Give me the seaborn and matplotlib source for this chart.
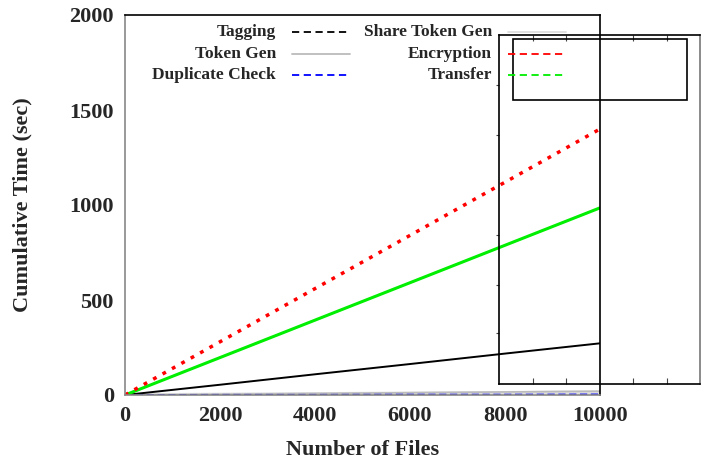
import matplotlib
matplotlib.use("Agg")
import matplotlib.pyplot as plt
import seaborn as sns
from matplotlib.lines import Line2D
from matplotlib.patches import Rectangle

# data
files = [0, 2000, 4000, 6000, 8000, 10000]
tagging = [0, 54, 109, 163, 218, 272]
token_gen = [0, 4, 8, 12, 16, 20]
share_token_gen = [0, 3, 6, 9, 12, 15]
duplicate_check = [0, 1, 1, 2, 2, 3]
encryption = [0, 280, 560, 840, 1120, 1400]
transfer = [0, 197, 394, 591, 788, 985]

x_ticks = [0, 2000, 4000, 6000, 8000, 10000]
y_ticks = [0, 500, 1000, 1500, 2000]

sns.set_style("white")
plt.rcParams['font.family'] = ['Liberation Serif', 'DejaVu Serif']
plt.rcParams['font.weight'] = 'bold'

W, H = 705, 463
fig = plt.figure(figsize=(W / 100, H / 100), dpi=100)
ax = fig.add_axes([125 / W, 1 - 395 / H, 475 / W, 380 / H])

sns.lineplot(x=files, y=share_token_gen, ax=ax, color="#dddddd", linewidth=2.5)
sns.lineplot(x=files, y=token_gen, ax=ax, color="#bbbbbb", linewidth=1.2)
sns.lineplot(x=files, y=duplicate_check, ax=ax, color="#0000ff", linewidth=1.3,
             linestyle=(0, (4, 2)))
sns.lineplot(x=files, y=tagging, ax=ax, color="black", linewidth=1.4)
sns.lineplot(x=files, y=transfer, ax=ax, color="#00ee00", linewidth=2.2)
sns.lineplot(x=files, y=encryption, ax=ax, color="#ff0000", linewidth=2.5,
             linestyle=(0, (1.1, 2.0)))

ax.set_xlim(0, 10000)
ax.set_ylim(0, 2000)
ax.set_xticks(x_ticks)
ax.set_yticks(y_ticks)
ax.tick_params(length=0, labelsize=16, pad=8)
for lab in ax.get_xticklabels() + ax.get_yticklabels():
    lab.set_fontweight('bold')
ax.set_xlabel("Number of Files", fontsize=16, fontweight='bold')
ax.set_ylabel("Cumulative Time (sec)", fontsize=16, fontweight='bold')
ax.xaxis.set_label_coords(0.5, (395 - 450) / 380)
ax.xaxis.label.set_va('center')
ax.yaxis.set_label_coords((22 - 125) / 475, 0.5)
ax.yaxis.label.set_va('center')
for side in ['left', 'bottom']:
    ax.spines[side].set_color('#888888')
for side in ['top', 'right']:
    ax.spines[side].set_color('black')
for sp in ax.spines.values():
    sp.set_linewidth(1.2)

# gnuplot-style key, labels right-aligned before the samples
key = [
    ("Tagging", "black", (0, (4, 2.5)), 1.3, 276, 32, 292, 350),
    ("Token Gen", "#bbbbbb", "-", 1.3, 276, 54, 292, 350),
    ("Duplicate Check", "#0000ff", (0, (4, 2.5)), 1.3, 276, 75, 292, 350),
    ("Share Token Gen", "#dddddd", "-", 1.3, 492, 32, 508, 566),
    ("Encryption", "#ff0000", (0, (4, 2.5)), 1.3, 492, 54, 508, 566),
    ("Transfer", "#00ee00", (0, (4, 2.5)), 1.3, 492, 75, 508, 566),
]
for label, col, ls, lw, tx, ty, x0, x1 in key:
    fig.text(tx / W, 1 - ty / H, label, ha='right', va='center',
             fontsize=12.5, fontweight='bold')
    fig.add_artist(Line2D([x0 / W, x1 / W], [1 - ty / H, 1 - ty / H],
                          color=col, linestyle=ls, linewidth=lw,
                          transform=fig.transFigure))

# stray second frame overlapping the right side
ax2 = fig.add_axes([499 / W, 1 - 384 / H, 201 / W, 349 / H])
ax2.set_facecolor('none')
ax2.set_xlim(0, 6)
ax2.set_ylim(0, 349)
ax2.set_xticks([1, 2, 4, 5])
ax2.set_yticks([51, 99, 149, 249, 299])
ax2.tick_params(axis='x', direction='in', length=4, top=True, bottom=True,
                labelbottom=False, color='#444444')
ax2.tick_params(axis='y', direction='out', length=2, left=True,
                labelleft=False, color='#444444')
for sp in ax2.spines.values():
    sp.set_color('black')
    sp.set_linewidth(1.2)
ax2.spines['right'].set_color('#777777')

fig.add_artist(Rectangle((513 / W, 1 - 100 / H), 174 / W, 61 / H,
                         fill=False, edgecolor='black', linewidth=1.2,
                         transform=fig.transFigure))

fig.savefig("out.png", dpi=100)
